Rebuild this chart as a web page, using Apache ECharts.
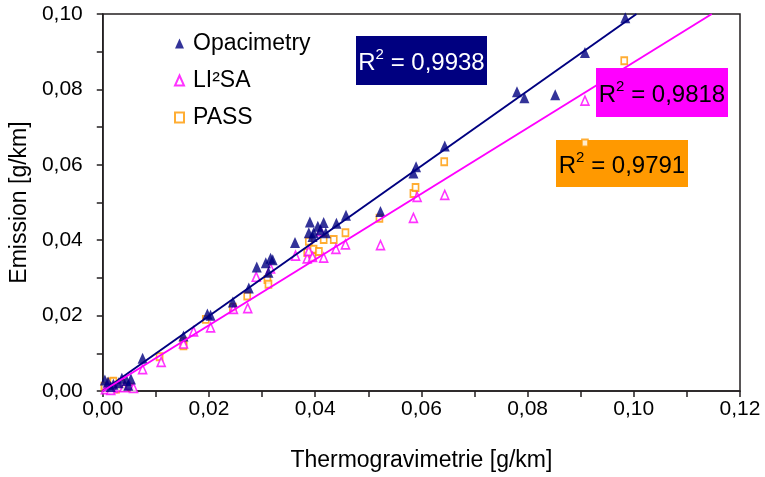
<!DOCTYPE html>
<html><head><meta charset="utf-8">
<script src="https://cdn.jsdelivr.net/npm/echarts@6/dist/echarts.min.js"></script>
<style>html,body{margin:0;padding:0;background:#fff}#c{width:765px;height:477px}</style>
</head><body><div id="c"></div>
<script>
var opacimetry = [[0.0004,0.0029],[0.001,0.0024],[0.0015,0.0012],[0.002,0.0018],[0.003,0.0022],[0.0036,0.0034],[0.0045,0.0028],[0.0053,0.0032],[0.0048,0.0015],[0.0075,0.0087],
 [0.0152,0.0146],[0.0197,0.0204],[0.0203,0.0201],[0.0245,0.0236],[0.0275,0.0273],[0.029,0.0329],[0.0307,0.034],[0.0312,0.0315],[0.0316,0.0352],[0.032,0.0348],
 [0.0362,0.0394],[0.0388,0.042],[0.039,0.0448],[0.0395,0.041],[0.0397,0.042],[0.0405,0.0437],[0.041,0.0428],[0.0416,0.0447],[0.042,0.042],[0.044,0.0445],[0.0458,0.0466],
 [0.0523,0.0476],[0.0585,0.0578],[0.059,0.0595],[0.0644,0.065],[0.078,0.0794],[0.0794,0.0778],[0.0852,0.0786],[0.0908,0.0898],[0.0984,0.099]];
var li2sa = [[0.0005,0.0005],[0.001,0.0012],[0.002,0.0008],[0.003,0.0012],[0.004,0.001],[0.005,0.0016],[0.0058,0.0008],[0.0015,0.0003],
 [0.0075,0.0058],[0.011,0.0077],[0.0152,0.0126],[0.0171,0.0158],[0.0203,0.0169],[0.0246,0.0218],[0.0273,0.022],[0.0289,0.0303],[0.0316,0.0325],
 [0.0363,0.0359],[0.0385,0.0352],[0.0388,0.0372],[0.0395,0.0356],[0.0416,0.0354],[0.041,0.0424],[0.0439,0.0377],[0.0457,0.0389],
 [0.0523,0.0387],[0.0585,0.0459],[0.0592,0.0515],[0.0644,0.052],[0.0908,0.077]];
var pass = [[0.0003,0.0013],[0.001,0.0008],[0.0015,0.0024],[0.002,0.0026],[0.003,0.0015],[0.0043,0.0013],[0.005,0.001],[0.0025,0.0005],[0.0035,0.002],
 [0.0107,0.0091],[0.0152,0.0132],[0.0152,0.012],[0.0194,0.019],[0.0245,0.0222],[0.0272,0.0252],[0.031,0.0296],[0.0312,0.0283],
 [0.0385,0.0367],[0.0388,0.0397],[0.0395,0.0357],[0.0397,0.0376],[0.0407,0.037],[0.0416,0.0402],[0.0435,0.0402],[0.0457,0.042],
 [0.0521,0.0458],[0.0585,0.0524],[0.0589,0.054],[0.0643,0.0608],[0.0908,0.0658],[0.0982,0.0876]];
var seriesNames = ['Opacimetry','LI²SA','PASS'];
var trendSlope = [0.995, 0.872];
var trendIntercept = [0.0, 0.0];
var r2Values = ['0,9938','0,9818','0,9791'];
var xTicks = [0, 0.12, 0.02];
var yTicks = [0, 0.10, 0.02];

var NAVY='#000080', MAG='#ff00ff', ORA='#ff9900', AX='#231f20';
var FONT='Liberation Sans, Arial, sans-serif';
function trend(i){
  var xEnd = Math.min(xTicks[1], (yTicks[1]-trendIntercept[i])/trendSlope[i]);
  return [[0, trendIntercept[i]],[xEnd, trendIntercept[i]+trendSlope[i]*xEnd]];
}
function fmt(v){return v.toFixed(2).replace('.',',');}
var chart = echarts.init(document.getElementById('c'));
function box(x,y,w,h,fill,txtColor,val){
  return {type:'group', x:x, y:y, z:100, children:[
    {type:'rect', shape:{x:0,y:0,width:w,height:h}, style:{fill:fill}},
    {type:'text', x:w/2, y:h/2+1, style:{
      text:'{a|R}{b|2}{a| = '+val+'}', align:'center', verticalAlign:'middle', fill:txtColor,
      rich:{a:{fontSize:24,fontFamily:FONT,fill:txtColor,color:txtColor,lineHeight:28,verticalAlign:'bottom'},
            b:{fontSize:15,fontFamily:FONT,fill:txtColor,color:txtColor,lineHeight:28,verticalAlign:'top',padding:[0,0,11,0]}}
    }}
  ]};
}
chart.setOption({
  animation:false,
  grid:{left:102,right:25,top:14,bottom:85,show:true,borderColor:AX,borderWidth:1.5,backgroundColor:'#fff'},
  legend:{orient:'vertical',left:169,top:27,itemGap:14,itemWidth:9,itemHeight:10,
    data:seriesNames, textStyle:{fontSize:23,fontFamily:FONT,color:'#000',padding:[0,0,0,4]}},
  xAxis:{type:'value',min:xTicks[0],max:xTicks[1],interval:xTicks[2],
    name:'Thermogravimetrie [g/km]',nameLocation:'middle',nameGap:58,
    nameTextStyle:{fontSize:23,fontFamily:FONT,color:'#000'},
    axisLine:{lineStyle:{color:AX,width:1.5}},
    axisTick:{show:true,length:6,lineStyle:{color:AX,width:1.5}},
    minorTick:{show:true,splitNumber:2,length:6,lineStyle:{color:AX,width:1.5}},
    splitLine:{show:false},
    axisLabel:{fontSize:21,fontFamily:FONT,color:'#000',margin:8,formatter:fmt}},
  yAxis:{type:'value',min:yTicks[0],max:yTicks[1],interval:yTicks[2],
    name:'Emission [g/km]',nameLocation:'middle',nameGap:70,
    nameTextStyle:{fontSize:23,fontFamily:FONT,color:'#000'},
    axisLine:{lineStyle:{color:AX,width:1.5}},
    axisTick:{show:true,length:6,lineStyle:{color:AX,width:1.5}},
    minorTick:{show:true,splitNumber:2,length:6,lineStyle:{color:AX,width:1.5}},
    splitLine:{show:false},
    axisLabel:{fontSize:21,fontFamily:FONT,color:'#000',margin:20,formatter:fmt}},
  series:[
    {type:'line',data:trend(0),symbol:'none',lineStyle:{color:NAVY,width:2},z:3,silent:true},
    {type:'line',data:trend(1),symbol:'none',lineStyle:{color:MAG,width:2},z:3,silent:true},
    {name:seriesNames[2],type:'scatter',data:pass,symbol:'rect',symbolSize:[6,7],
      itemStyle:{color:'#fff',borderColor:ORA,borderWidth:1.8},z:2},
    {name:seriesNames[1],type:'scatter',data:li2sa,symbol:'triangle',symbolSize:[8,9],
      itemStyle:{color:'#fff',borderColor:MAG,borderWidth:1.6},z:2},
    {name:seriesNames[0],type:'scatter',data:opacimetry,symbol:'triangle',symbolSize:[10,11],
      itemStyle:{color:NAVY},z:2}
  ],
  graphic:[
    box(356,36,131,49,NAVY,'#fff',r2Values[0]),
    box(596,68,132,49,MAG,'#000',r2Values[1]),
    box(556,140,132,47,ORA,'#000',r2Values[2])
  ]
});
</script></body></html>
